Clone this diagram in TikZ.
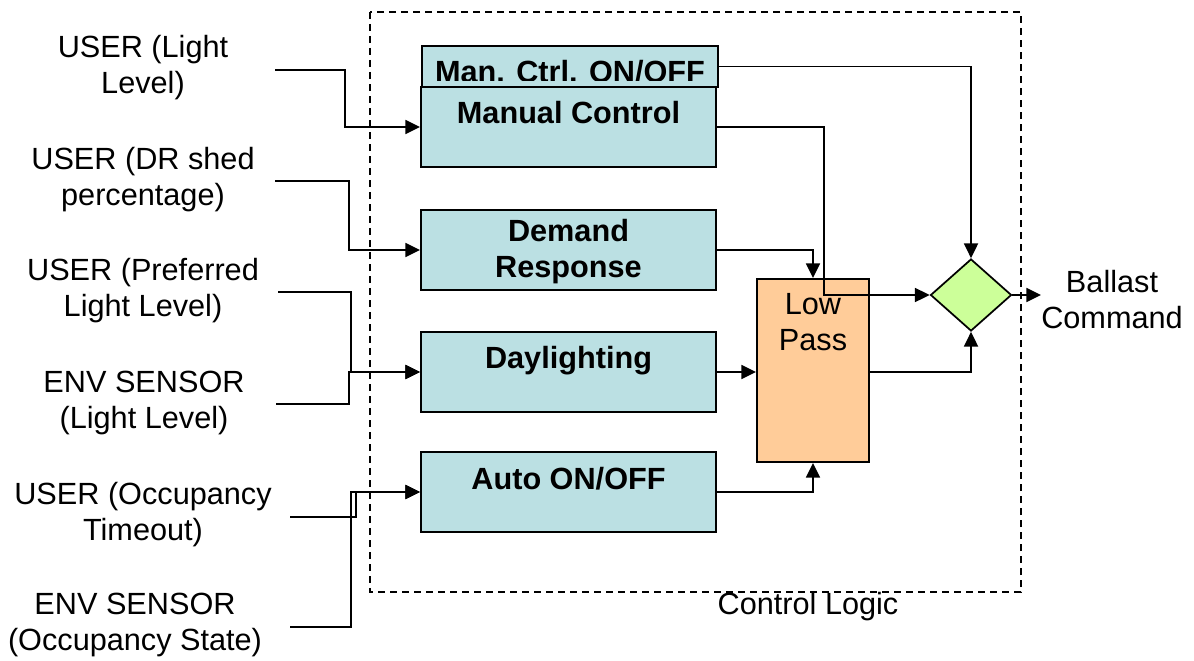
\documentclass[tikz,border=0pt]{standalone}
\usepackage{fontspec}
\setmainfont{Liberation Sans}
\usetikzlibrary{arrows.meta,shapes.geometric}
\definecolor{boxc}{RGB}{187,224,227}
\definecolor{lpc}{RGB}{255,204,153}
\definecolor{dic}{RGB}{204,255,153}
\begin{document}
\begin{tikzpicture}[x=0.75pt,y=-0.75pt,
  font=\fontsize{23}{27}\selectfont,
  box/.style={draw, line width=1.5pt, fill=boxc, minimum width=221.25pt, minimum height=60pt, inner sep=0pt},
  btext/.style={font=\fontsize{23}{27}\selectfont\bfseries, align=center, inner sep=0pt},
  txt/.style={align=center, inner sep=0pt},
  arr/.style={line width=1.3pt, -{Triangle[length=11pt,width=10.5pt]}},
  frame/.style={draw, line width=1.3pt, dash pattern=on 5.5pt off 3.5pt}]
\useasboundingbox (0,0) rectangle (1194,660);
% frame
\draw[frame] (370,12) rectangle (1021,592);
\node[txt] (cl) at (808,607) {Control Logic};
% blocks
\node[box, minimum width=222pt, minimum height=30.75pt] (man) at (570,66.5) {};
\begin{scope}
\clip (422,46) rectangle (718,80);
\node[btext, anchor=base] (mantxt) at (570,82) {Man. Ctrl. ON/OFF};
\end{scope}
\node[box] (mc) at (568.5,127) {};
\node[btext, anchor=base] (mct) at (568.5,123) {Manual Control};
\node[box] (dr) at (568.5,250) {};
\node[btext] (drt) at (568.5,252) {Demand\\Response};
\node[box] (dl) at (568.5,372) {};
\node[btext, anchor=base] (dlt) at (568.5,368) {Daylighting};
\node[box] (ao) at (568.5,492) {};
\node[btext, anchor=base] (aot) at (568.5,489) {Auto ON/OFF};
\node[draw, line width=1.5pt, fill=lpc, minimum width=84pt, minimum height=137.25pt, inner sep=0pt] (lp) at (813,370.5) {};
\node[txt] (lpt) at (813,322.5) {Low\\Pass};
\node[diamond, draw, line width=1.3pt, fill=dic, minimum width=60.75pt, minimum height=54pt, inner sep=0pt] (dia) at (971,295) {};
\node[txt] (bc) at (1112,300) {Ballast\\Command};
% inputs
\node[txt] (i1) at (143,68) {USER (Light\\Level)};
\node[txt] (i2) at (143,180) {USER (DR shed\\percentage)};
\node[txt] (i3) at (143,291) {USER (Preferred\\Light Level)};
\node[txt] (i4) at (144,403) {ENV SENSOR\\(Light Level)};
\node[txt] (i5) at (143,515) {USER (Occupancy\\Timeout)};
\node[txt] (i6) at (135,625) {ENV SENSOR\\(Occupancy State)};
\coordinate (s1) at (275,70);
\coordinate (s2) at (275,181);
\coordinate (s3) at (278,292);
\coordinate (s4) at (276,404);
\coordinate (s5) at (290,517);
\coordinate (s6) at (290,627);
\draw[arr] (s1) -- ++(70,0) |- (mc.west);
\draw[arr] (s2) -- ++(74,0) |- (dr.west);
\draw[arr] (s3) -- ++(73,0) |- (dl.west);
\draw[arr] (s4) -- ++(73,0) |- (dl.west);
\draw[arr] (s5) -- ++(66,0) |- (ao.west);
\draw[arr] (s6) -- ++(61,0) |- (ao.west);
% internal connectors
\draw[arr] (man.east) -| (dia.north);
\draw[arr] (mc.east) -- ++(107,0) |- (dia.west);
\draw[arr] (dr.east) -| (lp.north);
\draw[arr] (dl.east) -- (dl.east -| lp.west);
\draw[arr] (ao.east) -| (lp.south);
\draw[arr] (lp.east |- dl.east) -| (dia.south);
\draw[arr] (dia.east) -- (dia.east -| bc.west);
\end{tikzpicture}
\end{document}
